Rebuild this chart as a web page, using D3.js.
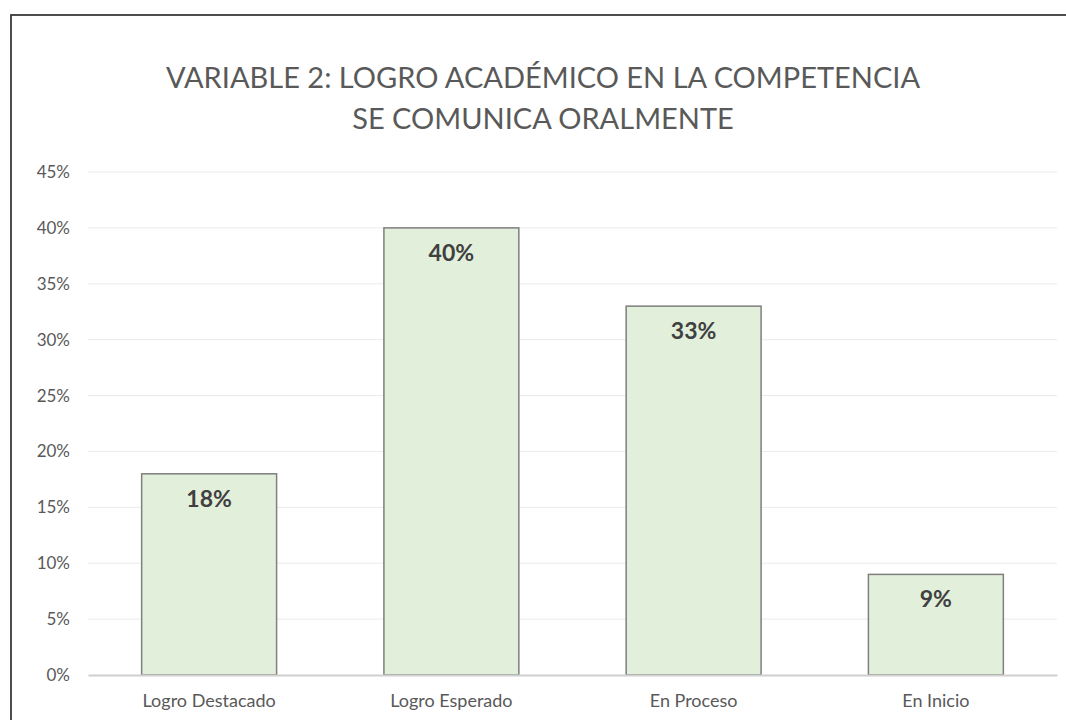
<!DOCTYPE html>
<html>
<head>
<meta charset="utf-8">
<script src="https://cdn.jsdelivr.net/npm/d3@7"></script>
<style>
  html, body { margin: 0; padding: 0; background: #fff; }
  svg { display: block; }
</style>
</head>
<body>
<svg id="chart" width="1066" height="720"></svg>
<script>
const categories = ["Logro Destacado", "Logro Esperado", "En Proceso", "En Inicio"];
const values = [0.18, 0.40, 0.33, 0.09];
const valueLabels = ["18%", "40%", "33%", "9%"];
const yTicks = [0, 0.05, 0.10, 0.15, 0.20, 0.25, 0.30, 0.35, 0.40, 0.45];
const titleLines = ["VARIABLE 2: LOGRO ACADÉMICO EN LA COMPETENCIA", "SE COMUNICA ORALMENTE"];

const W = 1066, H = 720;
const margin = { left: 88, right: 9, top: 172, bottom: 45 };
const font = "Lato, 'Open Sans', sans-serif";

const svg = d3.select("#chart");
svg.append("rect").attr("width", W).attr("height", H).attr("fill", "#fff");

// Outer frame (cropped in the reference: only left and top edges visible)
svg.append("rect")
  .attr("x", 11).attr("y", 15)
  .attr("width", 1200).attr("height", 900)
  .attr("fill", "none").attr("stroke", "#3A3A3A").attr("stroke-width", 1.8);

const x = d3.scaleBand()
  .domain(categories)
  .range([margin.left, W - margin.right])
  .paddingInner(0.443)
  .paddingOuter(0.2215);

const y = d3.scaleLinear()
  .domain([0, 0.45])
  .range([H - margin.bottom, margin.top]);

// Gridlines
svg.append("g")
  .selectAll("line")
  .data(yTicks.filter(d => d > 0))
  .join("line")
  .attr("x1", margin.left).attr("x2", W - margin.right)
  .attr("y1", d => y(d)).attr("y2", d => y(d))
  .attr("stroke", "#EBEBEB").attr("stroke-width", 1);

// Y axis labels
const yAxis = d3.axisLeft(y)
  .tickValues(yTicks)
  .tickFormat(d => Math.round(d * 100) + "%")
  .tickSize(0)
  .tickPadding(0);
const gy = svg.append("g")
  .attr("transform", `translate(70,0)`)
  .call(yAxis);
gy.select(".domain").remove();
gy.selectAll("text")
  .attr("fill", "#595959")
  .style("font-family", font)
  .style("font-size", "17px");

// Bars
svg.append("g")
  .selectAll("rect")
  .data(values)
  .join("rect")
  .attr("x", (d, i) => x(categories[i]))
  .attr("y", d => y(d))
  .attr("width", x.bandwidth())
  .attr("height", d => y(0) - y(d))
  .attr("fill", "#E2EFDA")
  .attr("stroke", "#7F7F7F")
  .attr("stroke-width", 1.5);

// Baseline axis
const xAxis = d3.axisBottom(x).tickSize(0).tickPadding(0);
const gx = svg.append("g")
  .attr("transform", `translate(0,${y(0)})`)
  .call(xAxis);
gx.select(".domain")
  .attr("stroke", "#D0D0D0").attr("stroke-width", 2);
gx.selectAll("text")
  .attr("dy", null)
  .attr("y", 32)
  .attr("fill", "#595959")
  .style("font-family", font)
  .style("font-size", "18px");

// Data labels
svg.append("g")
  .selectAll("text")
  .data(values)
  .join("text")
  .attr("x", (d, i) => x(categories[i]) + x.bandwidth() / 2)
  .attr("y", d => y(d) + 33)
  .attr("text-anchor", "middle")
  .attr("fill", "#404040")
  .style("font-family", font)
  .style("font-weight", "bold")
  .style("font-size", "23px")
  .text((d, i) => valueLabels[i]);

// Title
svg.append("g")
  .selectAll("text")
  .data(titleLines)
  .join("text")
  .attr("x", 543)
  .attr("y", (d, i) => 88 + i * 41)
  .attr("text-anchor", "middle")
  .attr("fill", "#595959")
  .style("font-family", font)
  .style("font-size", "29px")
  .text(d => d);
</script>
</body>
</html>
